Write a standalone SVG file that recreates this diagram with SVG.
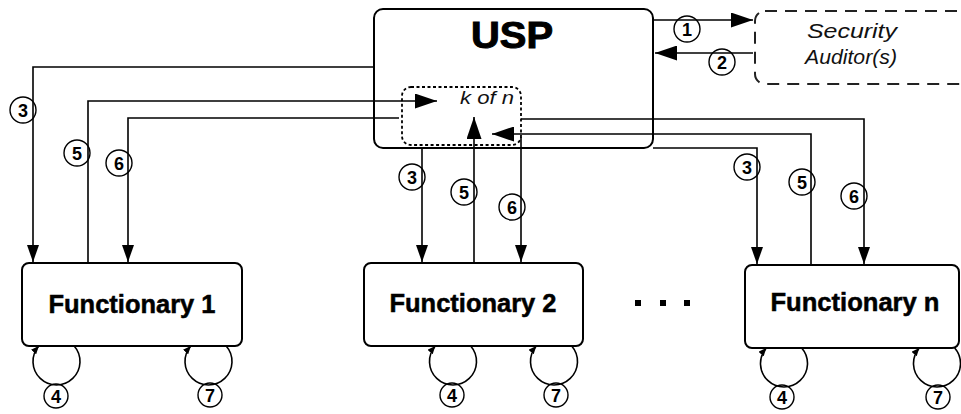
<svg xmlns="http://www.w3.org/2000/svg" width="961" height="414" viewBox="0 0 961 414">
<style>
.box{fill:#fff;stroke:#000;stroke-width:2}
.ln{fill:none;stroke:#000;stroke-width:1.6}
.lbl{fill:none;stroke:#000;stroke-width:1.4}
.num{font-family:"Liberation Sans",Arial,sans-serif;font-weight:bold;font-size:18px;text-anchor:middle;fill:#000}
.fn{font-family:"Liberation Sans",Arial,sans-serif;font-weight:bold;font-size:25px;text-anchor:middle;fill:#000;stroke:#000;stroke-width:0.5}
.it{font-family:"Liberation Sans",Arial,sans-serif;font-style:italic;text-anchor:middle;fill:#111}
</style>
<defs>
<marker id="a" markerUnits="userSpaceOnUse" viewBox="0 0 17 12" refX="17" refY="6" markerWidth="17" markerHeight="12" orient="auto"><path d="M0,0 L17,6 L0,12 z" fill="#000"/></marker>
<marker id="aL" markerUnits="userSpaceOnUse" viewBox="0 0 22 15" refX="22" refY="7.5" markerWidth="22" markerHeight="15" orient="auto"><path d="M0,0 L22,7.5 L0,15 z" fill="#000"/></marker>
<marker id="as" markerUnits="userSpaceOnUse" viewBox="0 0 8 7" refX="8" refY="3.5" markerWidth="8" markerHeight="7" orient="auto"><path d="M0,0 L8,3.5 L0,7 z" fill="#000"/></marker>
</defs>

<g id="usp">
<rect class="box" x="374" y="9" width="279" height="139" rx="9"/>
<text x="512" y="48" font-family="'Liberation Sans',Arial,sans-serif" font-weight="bold" font-size="37" text-anchor="middle" stroke="#000" stroke-width="1" textLength="82" lengthAdjust="spacingAndGlyphs">USP</text>
</g>
<g id="kofn">
<rect x="402" y="87" width="119" height="58" rx="9" fill="none" stroke="#000" stroke-width="1.8" stroke-dasharray="3,2.5"/>
<text class="it" x="487" y="104" font-size="18" textLength="54" lengthAdjust="spacingAndGlyphs">k of n</text>
</g>
<g id="auditor">
<rect x="755" y="11" width="215" height="73" rx="10" fill="none" stroke="#222" stroke-width="2" stroke-dasharray="12,8"/>
<text class="it" x="852" y="38" font-size="21" textLength="90" lengthAdjust="spacingAndGlyphs">Security</text>
<text class="it" x="851" y="64" font-size="21" textLength="92" lengthAdjust="spacingAndGlyphs">Auditor(s)</text>
</g>
<g id="f1">
<rect class="box" x="22" y="263" width="220" height="83" rx="7" stroke-width="1.5"/>
<text class="fn" x="132" y="313" textLength="167" lengthAdjust="spacingAndGlyphs">Functionary 1</text>
</g>
<g id="f2">
<rect class="box" x="364" y="263" width="219" height="83" rx="7" stroke-width="1.5"/>
<text class="fn" x="473" y="312" textLength="167" lengthAdjust="spacingAndGlyphs">Functionary 2</text>
</g>
<g id="fn">
<rect class="box" x="745" y="265" width="214" height="83" rx="7" stroke-width="1.5"/>
<text class="fn" x="855" y="311" textLength="169" lengthAdjust="spacingAndGlyphs">Functionary n</text>
</g>
<g id="dots" fill="#000">
<rect x="635" y="300" width="6" height="6"/>
<rect x="660" y="300" width="6" height="6"/>
<rect x="684" y="300" width="6" height="6"/>
</g>

<g id="connectors">
<path class="ln" d="M653,20 L753,20" marker-end="url(#aL)"/>
<path class="ln" d="M753,53 L655,53" marker-end="url(#aL)"/>
<path class="ln" d="M374,67 L33,67 L33,262" marker-end="url(#a)"/>
<path class="ln" d="M88,263 L88,101 L437,101" marker-end="url(#aL)"/>
<path class="ln" d="M399,118 L128,118 L128,262" marker-end="url(#a)"/>
<path class="ln" d="M422,149 L422,262" marker-end="url(#a)"/>
<path class="ln" d="M474,263 L474,117" marker-end="url(#aL)"/>
<path class="ln" d="M521,137 L521,262" marker-end="url(#a)"/>
<path class="ln" d="M521,119 L864,119 L864,264" marker-end="url(#a)"/>
<path class="ln" d="M811,264 L811,134 L492,134" marker-end="url(#aL)"/>
<path class="ln" d="M653,148 L757,148 L757,264" marker-end="url(#a)"/>
<path class="ln" d="M74.2,346 A23.5,23.5 0 1 1 38.8,346" marker-end="url(#as)"/>
<path class="ln" d="M226.2,346 A23.5,23.5 0 1 1 190.8,346" marker-end="url(#as)"/>
<path class="ln" d="M470.7,346 A23.5,23.5 0 1 1 435.3,346" marker-end="url(#as)"/>
<path class="ln" d="M571.7,346 A23.5,23.5 0 1 1 536.3,346" marker-end="url(#as)"/>
<path class="ln" d="M801.7,348 A23.5,23.5 0 1 1 766.3,348" marker-end="url(#as)"/>
<path class="ln" d="M954.7,348 A23.5,23.5 0 1 1 919.3,348" marker-end="url(#as)"/>
</g>

<g id="labels">
<circle class="lbl" cx="687" cy="29" r="13"/><text class="num" x="687" y="35.5">1</text>
<circle class="lbl" cx="722" cy="62" r="13"/><text class="num" x="722" y="68.5">2</text>
<circle class="lbl" cx="23" cy="110" r="13"/><text class="num" x="23" y="116.5">3</text>
<circle class="lbl" cx="77" cy="153" r="13"/><text class="num" x="77" y="159.5">5</text>
<circle class="lbl" cx="119" cy="163" r="13"/><text class="num" x="119" y="169.5">6</text>
<circle class="lbl" cx="412" cy="177" r="13"/><text class="num" x="412" y="183.5">3</text>
<circle class="lbl" cx="464" cy="192" r="13"/><text class="num" x="464" y="198.5">5</text>
<circle class="lbl" cx="512" cy="207" r="13"/><text class="num" x="512" y="213.5">6</text>
<circle class="lbl" cx="747" cy="167" r="13"/><text class="num" x="747" y="173.5">3</text>
<circle class="lbl" cx="802" cy="182" r="13"/><text class="num" x="802" y="188.5">5</text>
<circle class="lbl" cx="854" cy="196" r="13"/><text class="num" x="854" y="202.5">6</text>
<circle class="lbl" cx="56" cy="396" r="12"/><text class="num" x="56" y="402.5">4</text>
<circle class="lbl" cx="210" cy="395" r="12"/><text class="num" x="210" y="401.5">7</text>
<circle class="lbl" cx="452" cy="395" r="12"/><text class="num" x="452" y="401.5">4</text>
<circle class="lbl" cx="556" cy="395" r="12"/><text class="num" x="556" y="401.5">7</text>
<circle class="lbl" cx="782" cy="397" r="12"/><text class="num" x="782" y="403.5">4</text>
<circle class="lbl" cx="938" cy="397" r="12"/><text class="num" x="938" y="403.5">7</text>
</g>
</svg>
